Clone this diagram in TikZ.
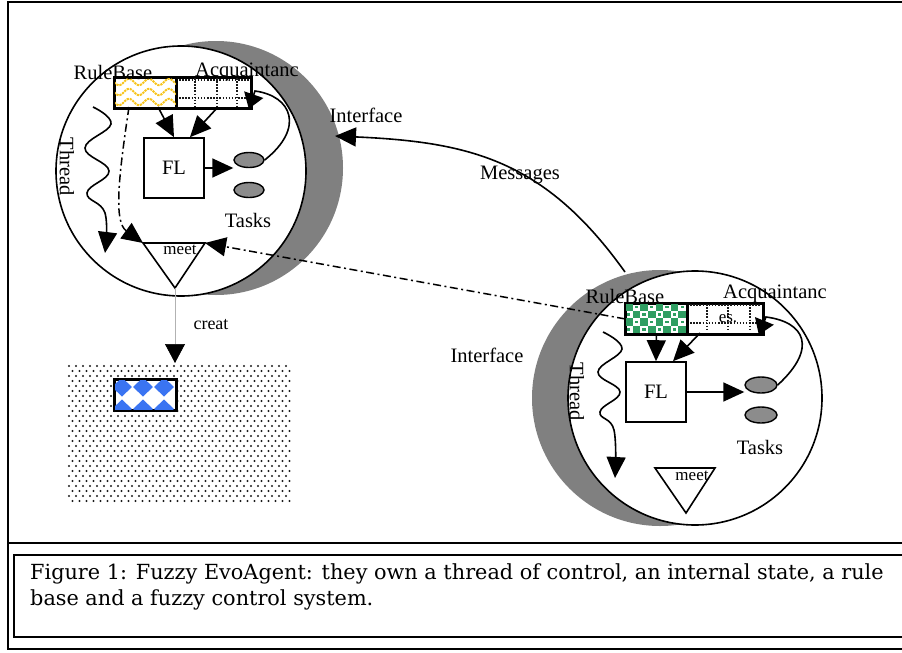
\documentclass[tikz,border=0pt]{standalone}
\usepackage{fontspec}
\setmainfont{Liberation Serif}
\newfontfamily\capfont{DejaVu Serif}
\usetikzlibrary{arrows.meta,shapes.geometric}

\definecolor{crescent}{HTML}{808080}
\definecolor{taskgray}{HTML}{8C8C8C}
\definecolor{wavey}{HTML}{F7C51E}
\definecolor{checkg}{HTML}{2F9E62}
\definecolor{diamb}{HTML}{3A74F2}
\definecolor{dotc}{HTML}{1A1A1A}

\begin{document}
\begin{tikzpicture}[x=1pt,y=-1pt,
  lbl/.style={inner sep=0pt,font=\fontsize{20.5}{24}\selectfont},
  smalllbl/.style={inner sep=0pt,font=\fontsize{17}{20}\selectfont},
  bighead/.style={-{Triangle[length=21pt,width=19pt]}},
  loophead/.style={-{Triangle[length=15pt,width=20pt]}},
  dashdot/.style={line width=1.5pt,dash pattern=on 8pt off 3.5pt on 2pt off 3.5pt},
  agent/.style={circle,draw,line width=1.6pt,fill=white,minimum size=#1,inner sep=0pt},
  shade/.style={circle,fill=crescent,minimum size=#1,inner sep=0pt},
  membox/.style={draw,line width=1.8pt,anchor=north west,inner sep=0pt,minimum width=#1,minimum height=30pt},
  flbox/.style={draw,line width=1.6pt,fill=white,minimum size=60pt,inner sep=0pt,font=\fontsize{20.5}{24}\selectfont},
  task/.style={ellipse,draw,line width=1.4pt,fill=taskgray,minimum width=30pt,minimum height=15pt,inner sep=0pt},
  gridline/.style={dotc,line width=1.5pt,dash pattern=on 1.5pt off 1.6pt},
  link/.style={line width=1.6pt}
]
\useasboundingbox (0,0) rectangle (902,653);

% ---------- frame and caption box ----------
\draw[line width=1.8pt] (903,2) -- (8,2) -- (8,649) -- (903,649);
\draw[line width=1.5pt] (8,543) -- (903,543);
\draw[line width=1.9pt] (910,555) -- (14,555) -- (14,637) -- (910,637);
\node[anchor=base west,inner sep=0pt,font=\capfont\fontsize{20.8}{24}\selectfont] (cap1) at (30,579)
  {Figure 1: Fuzzy EvoAgent: they own a thread of control, an internal state, a rule};
\node[anchor=base west,inner sep=0pt,font=\capfont\fontsize{20.8}{24}\selectfont] (cap2) at (30,605)
  {base and a fuzzy control system.};

% ---------- agent one ----------
\node[shade=254pt] (sh1) at (216,168) {};
\node[agent=250pt] (ag1) at (181,171) {};

\node[membox=61pt] (rb1) at (114,77) {};
\node[membox=75pt] (aq1) at (175,77) {};
\begin{scope}
  \clip (rb1.north west) rectangle (rb1.south east);
  \foreach \yy in {82,92,102}
    \draw[wavey,line width=2pt,dash pattern=on 2.2pt off 0.9pt]
      plot[domain=112:177,samples=70] (\x,{\yy+3.2*sin(18*(\x-114))});
\end{scope}
\foreach \xx in {195,217,237}
  \draw[gridline] (\xx,78) -- (\xx,106);
\foreach \yy in {80,98}
  \draw[gridline] (176,\yy) -- (249,\yy);
\draw[line width=1.8pt] (rb1.north west) rectangle (aq1.south east);
\draw[line width=1.8pt] (rb1.north east) -- (rb1.south east);

\node[lbl] (rbl1) at (113,72) {RuleBase};
\node[lbl] (aql1) at (247,72) {Acquaintanc};

\node[flbox] (fl1) at (174,168) {FL};
\node[task] (ta1) at (249,160) {};
\node[task] (tb1) at (249,190) {};
\node[lbl] (tk1) at (248,220) {Tasks};

\draw[link,bighead] (158,107) -- (fl1.north);
\draw[link,bighead] (218,107) -- ([xshift=16pt]fl1.north);
\draw[link,bighead] (fl1.east) -- (fl1.east -| ta1.west);
\draw[link,loophead] (ta1.east) .. controls (305,128) and (292,96) .. (255,91)
  -- ([xshift=-3pt]aq1.south east);

\draw[link,bighead] plot[smooth,tension=0.7] coordinates
  {(93,107) (111,124) (85,148) (109,171) (87,193) (105,213) (105,253)};
\node[lbl,rotate=-90] (th1) at (67,167) {Thread};

\coordinate (m1a) at (143,243);
\coordinate (m1b) at (205,243);
\coordinate (m1c) at (175,288);
\draw[line width=1.6pt,fill=white] (m1a) -- (m1b) -- (m1c) -- cycle;
\node[smalllbl] (mt1) at (180,250) {meet};

\draw[dashdot,bighead] (129,107) .. controls (118,180) and (114,222) .. (m1a);

\node[lbl] (if1) at (366,115) {Interface};

% ---------- created agent ----------
\node[anchor=north west,minimum width=225pt,minimum height=141pt,inner sep=0pt] (pool) at (67,363) {};
\foreach \r in {0,...,27}{
  \pgfmathsetmacro{\yy}{366+5*\r}
  \pgfmathsetmacro{\off}{mod(\r,2)*3.5}
  \foreach \c in {0,...,31}
    \fill[dotc] ({69+\off+7*\c},\yy) circle (1.15pt);
}
\node[membox=61pt,fill=white] (nb) at (114,379) {};
\begin{scope}
  \clip (nb.north west) rectangle (nb.south east);
  \foreach \xx in {122,143,164}
    \foreach \yy in {387,409}
      \fill[diamb] (\xx-10,\yy) -- (\xx,\yy-9.5) -- (\xx+10,\yy) -- (\xx,\yy+9.5) -- cycle;
\end{scope}
\draw[line width=1.8pt] (nb.north west) rectangle (nb.south east);

\draw[gray!60,line width=0.7pt,-{Triangle[length=19pt,width=20pt,color=black]}] (m1c) -- (m1c |- pool.north);
\node[smalllbl,font=\fontsize{18}{20}\selectfont] (cr) at (211,325) {creat};

% ---------- agent two ----------
\node[shade=256pt] (sh2) at (660,398) {};
\node[agent=254pt] (ag2) at (695,398) {};

\node[membox=61pt] (rb2) at (625,303) {};
\node[membox=76pt] (aq2) at (686,303) {};
\begin{scope}
  \clip (rb2.north west) rectangle (rb2.south east);
  \foreach \i in {0,...,7}
    \foreach \j in {0,...,3}{
      \pgfmathtruncatemacro{\parity}{mod(\i+\j,2)}
      \ifnum\parity=0
        \fill[checkg] ({625+7.625*\i},{303+7.5*\j}) rectangle ++(7.625,7.5);
      \else
        \fill[checkg] ({625+7.625*\i+2.2},{303+7.5*\j+2.5}) rectangle ++(3.2,2.5);
      \fi
    }
\end{scope}
\foreach \xx in {707,728,750}
  \draw[gridline] (\xx,304) -- (\xx,331);
\foreach \yy in {305,323}
  \draw[gridline] (687,\yy) -- (761,\yy);
\draw[line width=1.8pt] (rb2.north west) rectangle (aq2.south east);
\draw[line width=1.8pt] (rb2.north east) -- (rb2.south east);
\node[smalllbl] (es) at (728,319) {es.};

\node[lbl] (rbl2) at (625,296) {RuleBase};
\node[lbl] (aql2) at (775,294) {Acquaintanc};

\node[flbox] (fl2) at (656,392) {FL};
\node[task,minimum width=32pt,minimum height=16pt] (ta2) at (761,385) {};
\node[task,minimum width=32pt,minimum height=16pt] (tb2) at (761,415) {};
\node[lbl] (tk2) at (760,447) {Tasks};

\draw[link,bighead] (rb2.south) -- (fl2.north);
\draw[link,bighead] (700,333) -- ([xshift=17pt]fl2.north);
\draw[link,bighead] (fl2.east) -- (fl2.east -| ta2.west);
\draw[link,loophead] (ta2.east) .. controls (818,348) and (805,322) .. (766,317)
  -- ([xshift=-5pt]aq2.south east);

\draw[link,bighead] plot[smooth,tension=0.7] coordinates
  {(603,332) (622,349) (598,372) (620,392) (600,412) (614,430) (615,478)};
\node[lbl,rotate=-90] (th2) at (577,392) {Thread};

\coordinate (m2a) at (655,468);
\coordinate (m2b) at (715,468);
\coordinate (m2c) at (686,513);
\draw[line width=1.6pt,fill=white] (m2a) -- (m2b) -- (m2c) -- cycle;
\node[smalllbl] (mt2) at (692,476) {meet};

\node[lbl] (if2) at (487,355) {Interface};

% ---------- links between the agents ----------
\coordinate (g2top) at (625,272);
\coordinate (g1edge) at (335,136);
\draw[link,bighead] (g2top) .. controls (545,160) and (470,142) .. (g1edge);
\node[lbl] (msg) at (520,175) {Messages};

\draw[dashdot,bighead] (rb2.west) -- (m1b);
\end{tikzpicture}
\end{document}
